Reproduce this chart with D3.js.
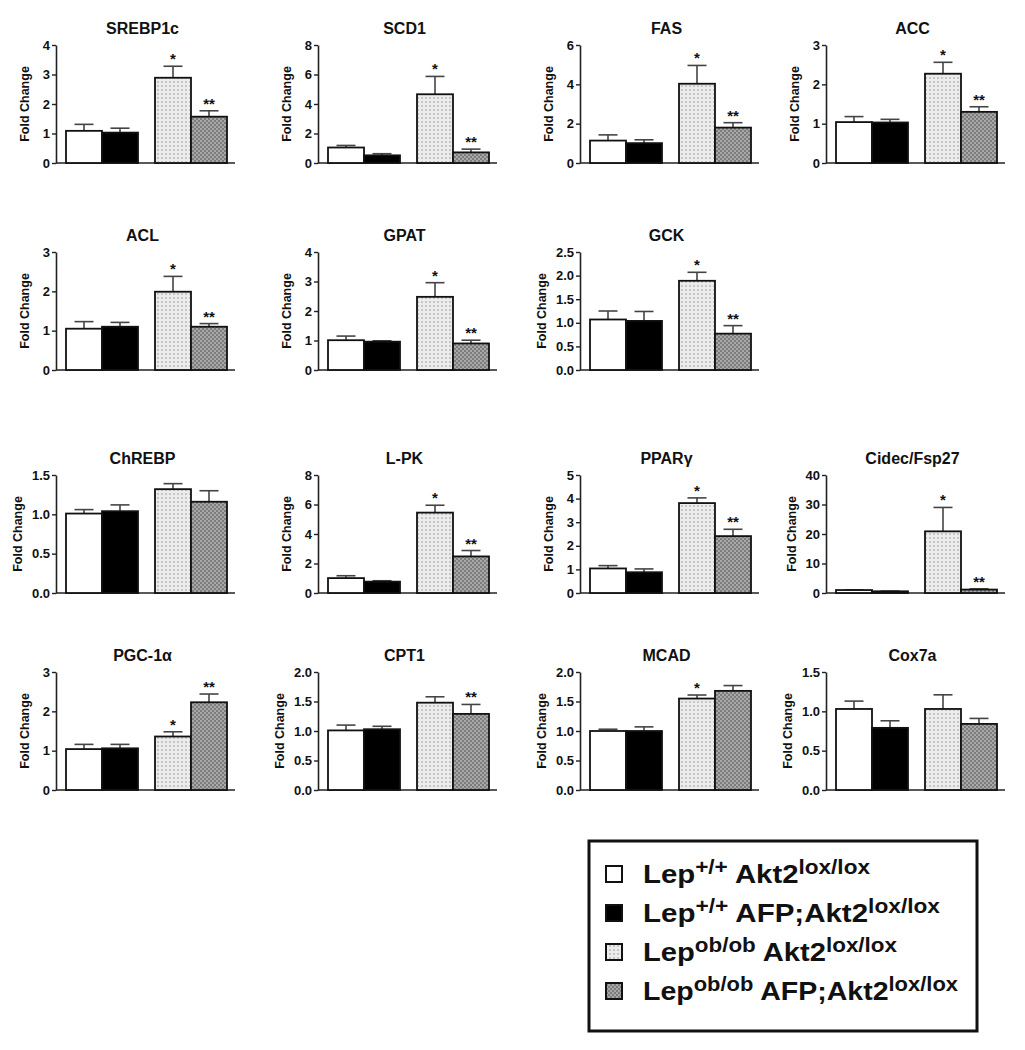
<!DOCTYPE html>
<html><head><meta charset="utf-8">
<script src="https://cdn.jsdelivr.net/npm/d3@7"></script>
<style>body{margin:0;background:#fff}svg{display:block;font-family:"Liberation Sans",Arial,sans-serif}</style>
</head><body><svg id="c" width="1025" height="1050"></svg>
<script>
// ---- data ----
const genes = ["SREBP1c","SCD1","FAS","ACC","ACL","GPAT","GCK","ChREBP","L-PK","PPARγ","Cidec/Fsp27","PGC-1α","CPT1","MCAD","Cox7a"];
const yMax  = [4,8,6,3,3,4,2.5,1.5,8,5,40,3,2.0,2.0,1.5];
const yStep = [1,2,2,1,1,1,0.5,0.5,2,1,10,1,0.5,0.5,0.5];
const groups = ["Lep+/+ Akt2lox/lox","Lep+/+ AFP;Akt2lox/lox","Lepob/ob Akt2lox/lox","Lepob/ob AFP;Akt2lox/lox"];
const meanWT      = [1.09,1.05,1.14,1.04,1.05,1.01,1.07,1.01,1.01,1.04,1.0,1.04,1.01,1.00,1.03];
const meanAFP     = [1.03,0.52,1.01,1.03,1.10,0.96,1.04,1.04,0.77,0.88,0.58,1.06,1.03,1.00,0.79];
const meanOb      = [2.89,4.66,4.03,2.27,1.99,2.48,1.89,1.32,5.45,3.81,20.9,1.36,1.48,1.55,1.03];
const meanObAFP   = [1.57,0.72,1.80,1.30,1.10,0.90,0.77,1.16,2.48,2.41,1.16,2.23,1.29,1.68,0.84];
const semWT       = [0.22,0.14,0.29,0.14,0.18,0.14,0.18,0.05,0.16,0.12,0.08,0.12,0.09,0.03,0.10];
const semAFP      = [0.15,0.11,0.17,0.08,0.11,0.03,0.20,0.08,0.06,0.14,0.05,0.10,0.05,0.07,0.09];
const semOb       = [0.39,1.21,0.93,0.29,0.39,0.48,0.18,0.07,0.50,0.22,8.1,0.12,0.10,0.06,0.18];
const semObAFP    = [0.20,0.22,0.25,0.13,0.08,0.11,0.17,0.14,0.40,0.29,0.25,0.21,0.16,0.09,0.07];
const starOb      = ["*","*","*","*","*","*","*","","*","*","*","*","","*",""];
const starObAFP   = ["**","**","**","**","**","**","**","","**","**","**","**","**","",""];

// ---- layout ----
const panelRow = [0,0,0,0,1,1,1,2,2,2,2,3,3,3,3];
const panelCol = [0,1,2,3,0,1,2,0,1,2,3,0,1,2,3];
const colLeft = [66,328,590,836];
const rowZero = [163,370,593,790];
const plotH = 118, barsW = 161;

const svg = d3.select("#c");
const defs = svg.append("defs");
const p3 = defs.append("pattern").attr("id","dots").attr("patternUnits","userSpaceOnUse").attr("width",4).attr("height",4);
p3.append("rect").attr("width",4).attr("height",4).attr("fill","#ececec");
p3.append("rect").attr("x",1).attr("y",1).attr("width",2).attr("height",2).attr("fill","#c6c6c6");
const p4 = defs.append("pattern").attr("id","check").attr("patternUnits","userSpaceOnUse").attr("width",4).attr("height",4);
p4.append("rect").attr("width",4).attr("height",4).attr("fill","#7c7c7c");
p4.append("rect").attr("x",0).attr("y",0).attr("width",2).attr("height",2).attr("fill","#a8a8a8");
p4.append("rect").attr("x",2).attr("y",2).attr("width",2).attr("height",2).attr("fill","#a8a8a8");
const fills = ["#ffffff","#000000","url(#dots)","url(#check)"];

const outer = d3.scaleBand().domain([0,1]).range([0,barsW]).paddingInner(17/89).paddingOuter(0);
const inner = d3.scaleBand().domain([0,1]).range([0,outer.bandwidth()]);

genes.forEach((g,i)=>{
  const x0 = colLeft[panelCol[i]], z = rowZero[panelRow[i]];
  const y = d3.scaleLinear().domain([0,yMax[i]]).range([z, z-plotH]);
  const gp = svg.append("g");
  const axX = x0-10, axEnd = x0+barsW+8;
  const ticks = d3.range(0, yMax[i]+yStep[i]/2, yStep[i]);
  const dec = yStep[i] < 1;
  const fmt = dec ? d3.format(".1f") : d3.format("d");
  const ax = gp.append("g").attr("transform",`translate(${axX},0)`)
    .call(d3.axisLeft(y).tickValues(ticks).tickFormat(fmt).tickSize(4).tickSizeOuter(0).tickPadding(2));
  ax.select(".domain").attr("stroke","#222").attr("stroke-width",1.6);
  ax.selectAll(".tick line").attr("stroke","#222").attr("stroke-width",1.4);
  ax.selectAll(".tick text").attr("fill","#111").style("font-size","13px").style("font-weight","bold").style("font-family","'Liberation Sans',Arial,sans-serif");
  gp.append("line").attr("x1",axX).attr("x2",axEnd).attr("y1",z).attr("y2",z).attr("stroke","#222").attr("stroke-width",1.6);
  const maxLabelW = d3.max(ticks, t => fmt(t).length);
  const lblOff = maxLabelW >= 3 ? 34 : (maxLabelW === 2 ? 30 : 27);
  gp.append("text").attr("transform",`translate(${axX-lblOff},${z-plotH/2}) rotate(-90)`)
    .attr("text-anchor","middle").style("font-size","12.5px").style("font-weight","bold").attr("fill","#111").text("Fold Change");
  gp.append("text").attr("x",x0+barsW/2-4).attr("y",z-plotH-11).attr("text-anchor","middle")
    .style("font-size","16px").style("font-weight","bold").attr("fill","#111").text(g);
  const means=[meanWT[i],meanAFP[i],meanOb[i],meanObAFP[i]];
  const sems=[semWT[i],semAFP[i],semOb[i],semObAFP[i]];
  const stars=["","",starOb[i],starObAFP[i]];
  means.forEach((m,k)=>{
    const bx = x0 + outer(Math.floor(k/2)) + inner(k%2), bw = inner.bandwidth(), cx = bx+bw/2;
    const top = y(sems[k]+m);
    gp.append("line").attr("x1",cx).attr("x2",cx).attr("y1",y(m)).attr("y2",top).attr("stroke","#444").attr("stroke-width",1.6);
    gp.append("line").attr("x1",cx-9.5).attr("x2",cx+9.5).attr("y1",top).attr("y2",top).attr("stroke","#444").attr("stroke-width",1.6);
    gp.append("rect").attr("x",bx).attr("y",y(m)).attr("width",bw).attr("height",z-y(m))
      .attr("fill",fills[k]).attr("stroke","#111").attr("stroke-width",1.8);
    if(stars[k]) gp.append("text").attr("x",cx).attr("y",top-2).attr("text-anchor","middle")
      .style("font-size","15px").style("font-weight","bold").attr("fill","#111").text(stars[k]);
  });
});

// ---- legend ----
const lg = svg.append("g");
lg.append("rect").attr("x",589).attr("y",841).attr("width",388).attr("height",190).attr("fill","none").attr("stroke","#111").attr("stroke-width",3);
const legParts = [["Lep","+/+"," Akt2","lox/lox"],["Lep","+/+"," AFP;Akt2","lox/lox"],["Lep","ob/ob"," Akt2","lox/lox"],["Lep","ob/ob"," AFP;Akt2","lox/lox"]];
const legLen = [227,297,254,315];
const legY = d3.scaleLinear().domain([0,3]).range([883,1000]);
legParts.forEach((parts,k)=>{
  const yy = legY(k);
  lg.append("rect").attr("x",606).attr("y",yy-17).attr("width",16).attr("height",16).attr("fill",fills[k]).attr("stroke","#111").attr("stroke-width",2);
  const t = lg.append("text").attr("x",643).attr("y",yy).style("font-weight","bold").attr("fill","#111").style("font-size","26px")
    .attr("textLength",legLen[k]).attr("lengthAdjust","spacingAndGlyphs");
  parts.forEach((p,j)=>{
    const s = t.append("tspan").text(p);
    if(j%2===1) s.style("font-size","20px").attr("baseline-shift","45%");
  });
});
</script></body></html>
